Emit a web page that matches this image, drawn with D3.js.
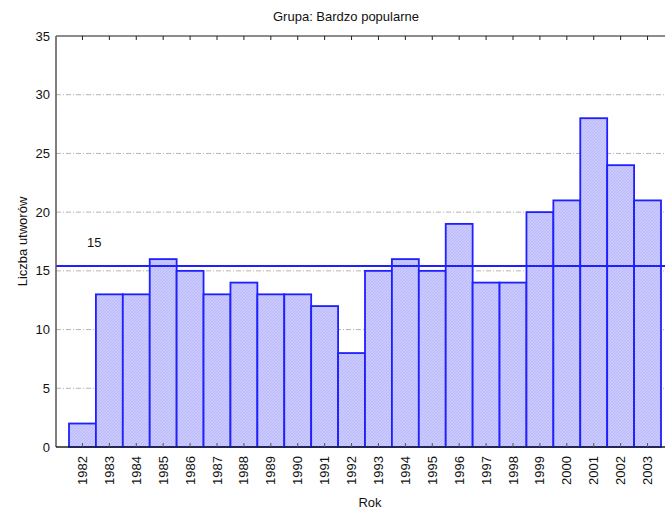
<!DOCTYPE html>
<html>
<head>
<meta charset="utf-8">
<title>Grupa: Bardzo popularne</title>
<script src="https://d3js.org/d3.v7.min.js"></script>
<style>
    body { margin: 0; background: #fff; }
    text { font-family: Arial, "Liberation Sans", sans-serif; fill: #111; }
</style>
</head>
<body>
<div id="chart"></div>
<script>
// data
var years = [1982, 1983, 1984, 1985, 1986, 1987, 1988, 1989, 1990, 1991, 1992,
             1993, 1994, 1995, 1996, 1997, 1998, 1999, 2000, 2001, 2002, 2003];
var counts = [2, 13, 13, 16, 15, 13, 14, 13, 13, 12, 8,
              15, 16, 15, 19, 14, 14, 20, 21, 28, 24, 21];
var yTicks = [0, 5, 10, 15, 20, 25, 30, 35];
var title = "Grupa: Bardzo popularne";
var meanLabel = "15";

var W = 665, H = 509;
var plot = {left: 56, right: 665, top: 36, bottom: 447};

var svg = d3.select("#chart").append("svg")
    .attr("width", W)
    .attr("height", H);

// hatch fill for bars
var pat = svg.append("defs").append("pattern")
    .attr("id", "hatch")
    .attr("patternUnits", "userSpaceOnUse")
    .attr("width", 3).attr("height", 3);
pat.append("rect").attr("width", 3).attr("height", 3).attr("fill", "#cacaff");
pat.append("path").attr("d", "M0,3 L3,0 M-1,1 L1,-1 M2,4 L4,2")
    .attr("stroke", "#b2b2f6").attr("stroke-width", 0.7);

var x = d3.scaleBand()
    .domain(years)
    .range([69, 661])
    .padding(0);

var y = d3.scaleLinear()
    .domain([0, 35])
    .range([plot.bottom, plot.top]);

// grid lines
svg.append("g").selectAll("line")
    .data(yTicks.filter(function(d) { return d > 0 && d < 35; }))
    .enter().append("line")
    .attr("x1", plot.left).attr("x2", plot.right)
    .attr("y1", function(d) { return y(d); })
    .attr("y2", function(d) { return y(d); })
    .attr("stroke", "#b4b4b4")
    .attr("stroke-width", 1)
    .attr("stroke-dasharray", "5,2,1,2");

// bars
svg.append("g").selectAll("rect")
    .data(years)
    .enter().append("rect")
    .attr("x", function(d) { return x(d); })
    .attr("y", function(d, i) { return y(counts[i]); })
    .attr("width", x.bandwidth())
    .attr("height", function(d, i) { return y(0) - y(counts[i]); })
    .attr("fill", "url(#hatch)")
    .attr("stroke", "#1f1fff")
    .attr("stroke-width", 1.8);

// mean line
var mean = d3.mean(counts);
svg.append("line")
    .attr("x1", plot.left).attr("x2", plot.right)
    .attr("y1", y(mean)).attr("y2", y(mean))
    .attr("stroke", "#1f1fff")
    .attr("stroke-width", 2);

svg.append("text")
    .attr("x", 87)
    .attr("y", 247)
    .style("font-size", "13px")
    .text(meanLabel);

// axes frame: left, top, bottom
svg.append("line")
    .attr("x1", plot.left).attr("x2", plot.left)
    .attr("y1", plot.top).attr("y2", plot.bottom)
    .attr("stroke", "#555").attr("stroke-width", 1.5);
svg.append("line")
    .attr("x1", plot.left).attr("x2", plot.right)
    .attr("y1", plot.top).attr("y2", plot.top)
    .attr("stroke", "#666").attr("stroke-width", 1.5);
svg.append("line")
    .attr("x1", plot.left).attr("x2", plot.right)
    .attr("y1", plot.bottom).attr("y2", plot.bottom)
    .attr("stroke", "#222").attr("stroke-width", 1.5);

// small ticks at bar centres, top and bottom
svg.append("g").selectAll("line")
    .data(years)
    .enter().append("line")
    .attr("x1", function(d) { return x(d) + x.bandwidth() / 2; })
    .attr("x2", function(d) { return x(d) + x.bandwidth() / 2; })
    .attr("y1", plot.top).attr("y2", plot.top + 4)
    .attr("stroke", "#222");
svg.append("g").selectAll("line")
    .data(years)
    .enter().append("line")
    .attr("x1", function(d) { return x(d) + x.bandwidth() / 2; })
    .attr("x2", function(d) { return x(d) + x.bandwidth() / 2; })
    .attr("y1", plot.bottom).attr("y2", plot.bottom - 4)
    .attr("stroke", "#555");

// y tick labels
svg.append("g").selectAll("text")
    .data(yTicks)
    .enter().append("text")
    .attr("x", 50)
    .attr("y", function(d) { return y(d); })
    .attr("dy", "0.35em")
    .attr("text-anchor", "end")
    .style("font-size", "13px")
    .text(function(d) { return d; });

// x tick labels, rotated
svg.append("g").selectAll("text")
    .data(years)
    .enter().append("text")
    .attr("transform", function(d) {
        return "translate(" + (x(d) + x.bandwidth() / 2) + ",456) rotate(-90)";
    })
    .attr("dy", "0.35em")
    .attr("text-anchor", "end")
    .style("font-size", "13px")
    .text(function(d) { return d; });

// title and axis labels
svg.append("text")
    .attr("x", 346).attr("y", 21)
    .attr("text-anchor", "middle")
    .style("font-size", "13px")
    .text(title);

svg.append("text")
    .attr("transform", "translate(27," + ((plot.top + plot.bottom) / 2) + ") rotate(-90)")
    .attr("text-anchor", "middle")
    .style("font-size", "13px")
    .text("Liczba utworów");

svg.append("text")
    .attr("x", 370).attr("y", 507)
    .attr("text-anchor", "middle")
    .style("font-size", "13px")
    .text("Rok");
</script>
</body>
</html>
